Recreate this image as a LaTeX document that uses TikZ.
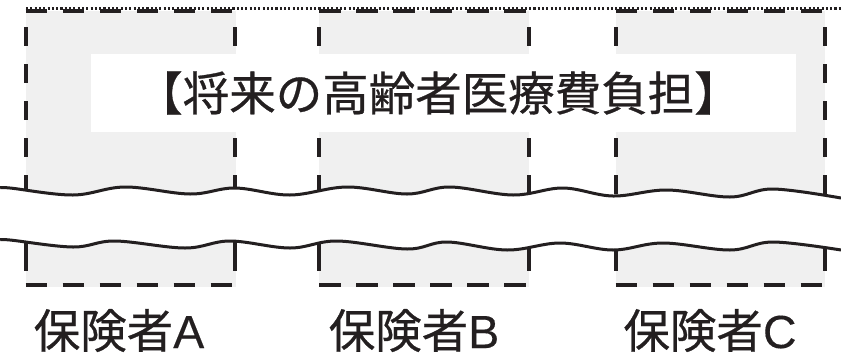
\documentclass[tikz,border=0pt]{standalone}
\usepackage{fontspec}
\newfontfamily\jp[FakeBold=0.6]{Noto Sans CJK JP}
\newfontfamily\lat[FakeBold=0.3]{Liberation Sans}
\definecolor{boxgray}{HTML}{F0F0F0}
\definecolor{ink}{HTML}{231F20}
\begin{document}
\begin{tikzpicture}[x=1pt,y=-1pt,
  grayfill/.style={fill=boxgray},
  vdash/.style={line width=4pt, dash pattern=on 19pt off 18pt, color=ink},
  hdash/.style={line width=4pt, dash pattern=on 21.5pt off 15.5pt, color=ink},
  solidedge/.style={line width=4pt, color=ink},
  wave/.style={line width=3pt, line join=round, color=ink},
  dotline/.style={line width=2.4pt, dash pattern=on 2.1pt off 2.2pt, color=ink},
  bigtext/.style={font=\jp\fontsize{46.5}{52}\selectfont, text=ink, inner sep=0pt}
]
\useasboundingbox (0,0) rectangle (841,357);
% gray boxes
\foreach \l/\r in {25.5/236, 319/529, 615.5/825}{
  \fill[grayfill] (\l,11) rectangle (\r,287);
}
% dotted top line
\draw[dotline] (26,8.5) -- (841,8.5);
% dashed box edges
\foreach \l/\r in {25.5/235, 319/529, 615.5/825}{
  \draw[vdash] (\l,27) -- (\l,200);
  \draw[vdash] (\r,27) -- (\r,200);
  \draw[hdash] (\l,10.5) -- (\r,10.5);
  \draw[hdash] (\l,285) -- (\r,285);
  \draw[solidedge] (\l,240) -- (\l,271);
  \draw[solidedge] (\r,240) -- (\r,271);
}
% white break between the waves
\fill[white] plot[smooth, tension=0.6] coordinates {(0,188) (10,188) (73,195) (125,187) (190,194) (235,188) (290,195) (347,187) (407,194) (450,187) (513,195) (563,188) (613,196) (667,190) (730,197) (773,189) (841,198)}
  -- plot[smooth, tension=0.6] coordinates {(841,250) (773,242) (730,250) (663,243) (613,250) (560,243) (507,250) (447,242) (407,249) (337,241) (290,248) (230,241) (185,248) (115,241) (73,247) (10,240) (0,240)} -- cycle;
\draw[wave] plot[smooth, tension=0.6] coordinates {(0,188) (10,188) (73,195) (125,187) (190,194) (235,188) (290,195) (347,187) (407,194) (450,187) (513,195) (563,188) (613,196) (667,190) (730,197) (773,189) (841,198)};
\draw[wave] plot[smooth, tension=0.6] coordinates {(0,240) (10,240) (73,247) (115,241) (185,248) (230,241) (290,248) (337,241) (407,249) (447,242) (507,250) (560,243) (613,250) (663,243) (730,250) (773,242) (841,250)};
% title
\fill[white] (91,54) rectangle (796,132);
\node[bigtext] (title) at (438.5,93) {【将来の高齢者医療費負担】};
% labels
\node[bigtext] (labA) at (119,330.5) {保険者{\lat A}};
\node[bigtext] (labB) at (414,330.5) {保険者{\lat B}};
\node[bigtext] (labC) at (710,330.5) {保険者{\lat C}};
\end{tikzpicture}
\end{document}
